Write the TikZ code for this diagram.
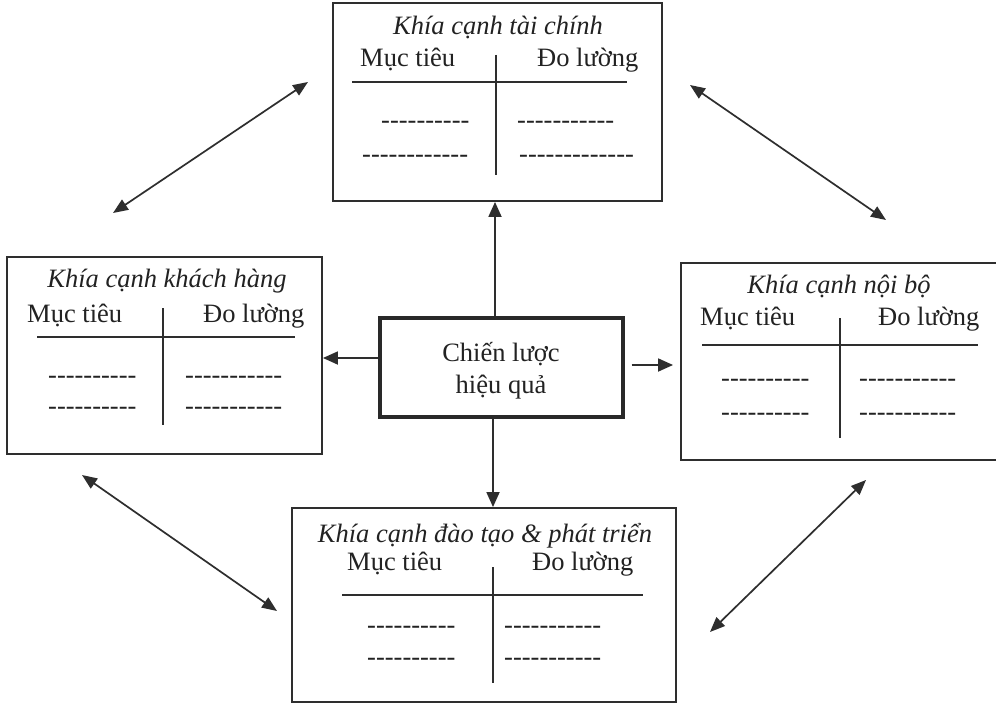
\documentclass[tikz,border=0pt]{standalone}
\usepackage{fontspec}
\setmainfont{Liberation Serif}
\usetikzlibrary{arrows.meta}
\newcommand\dashrow[1]{\foreach \i in {1,...,#1}{-\kern0pt}}
\definecolor{ink}{HTML}{2E2E2E}
\definecolor{txt}{HTML}{222222}
\tikzset{
  panel/.style={draw=ink, line width=1.9pt, inner sep=0pt, fill=none},
  corebox/.style={draw=ink!90!black, line width=3.2pt, inner sep=0pt},
  rule/.style={draw=ink, line width=1.7pt},
  lbl/.style={inner sep=0pt, anchor=base, text=txt, font=\fontsize{26.5}{30}\selectfont},
  lblw/.style={lbl, anchor=base west},
  ttl/.style={lbl, font=\fontsize{26.5}{30}\selectfont\itshape},
  arr/.style={draw=ink, line width=1.8pt, -{Triangle[length=15pt,width=13pt]}},
  darr/.style={draw=ink, line width=1.7pt, {Triangle[length=15pt,width=12pt]}-{Triangle[length=15pt,width=12pt]}}
}
\begin{document}
\begin{tikzpicture}[x=1pt,y=-1pt]
\useasboundingbox[fill=white] (0,0) rectangle (996,706);

% boxes
\node[panel, minimum width=329pt, minimum height=198pt] (top) at (497.5,102) {};
\node[panel, minimum width=315pt, minimum height=197pt] (lft) at (164.5,355.5) {};
\node[panel, minimum width=317pt, minimum height=197pt] (rgt) at (839.5,361.5) {};
\node[panel, minimum width=384pt, minimum height=194pt] (bot) at (484,605) {};
\node[corebox, minimum width=243pt, minimum height=99pt] (ctr) at (501.5,367.5) {};

% center text
\node[lbl] (c1) at (501,361) {Chiến lược};
\node[lbl] (c2) at (501,393) {hiệu quả};

% top box content
\node[ttl] (t0) at (498,35) {Khía cạnh tài chính};
\node[lblw] (t1) at (360,67) {Mục tiêu};
\node[lblw] (t2) at (537,67) {Đo lường};
\draw[rule] (352,82) -- (627,82);
\draw[rule] (496,55) -- (496,175);
\node[lblw] (t3) at (381,129) {\dashrow{10}};
\node[lblw] (t4) at (362,163) {\dashrow{12}};
\node[lblw] (t5) at (517,129) {\dashrow{11}};
\node[lblw] (t6) at (519,163) {\dashrow{13}};

% left box content
\node[ttl] (l0) at (167,287) {Khía cạnh khách hàng};
\node[lblw] (l1) at (27,322) {Mục tiêu};
\node[lblw] (l2) at (203,322) {Đo lường};
\draw[rule] (37,337) -- (295,337);
\draw[rule] (163,308) -- (163,425);
\node[lblw] (l3) at (48,383) {\dashrow{10}};
\node[lblw] (l4) at (48,414) {\dashrow{10}};
\node[lblw] (l5) at (185,383) {\dashrow{11}};
\node[lblw] (l6) at (185,414) {\dashrow{11}};

% right box content
\node[ttl] (r0) at (839,293) {Khía cạnh nội bộ};
\node[lblw] (r1) at (700,325) {Mục tiêu};
\node[lblw] (r2) at (878,325) {Đo lường};
\draw[rule] (702,345) -- (978,345);
\draw[rule] (840,318) -- (840,438);
\node[lblw] (r3) at (721,386) {\dashrow{10}};
\node[lblw] (r4) at (721,420) {\dashrow{10}};
\node[lblw] (r5) at (859,386) {\dashrow{11}};
\node[lblw] (r6) at (859,420) {\dashrow{11}};

% bottom box content
\node[ttl] (b0) at (485,542) {Khía cạnh đào tạo \& phát triển};
\node[lblw] (b1) at (347,570) {Mục tiêu};
\node[lblw] (b2) at (532,570) {Đo lường};
\draw[rule] (342,595) -- (643,595);
\draw[rule] (493,567) -- (493,683);
\node[lblw] (b3) at (367,633) {\dashrow{10}};
\node[lblw] (b4) at (367,665) {\dashrow{10}};
\node[lblw] (b5) at (504,633) {\dashrow{11}};
\node[lblw] (b6) at (504,665) {\dashrow{11}};

% arrows from the strategy box
\draw[arr] ([xshift=-6.5pt]ctr.north) -- ([xshift=-6.5pt]ctr.north |- top.south);
\draw[arr] ([xshift=-8.5pt]ctr.south) -- ([xshift=-8.5pt]ctr.south |- bot.north);
\draw[arr] ([yshift=9.5pt]ctr.west) -- ([yshift=9.5pt]ctr.west -| lft.east);
\draw[arr, shorten <=7pt, shorten >=7pt] ([yshift=2.5pt]ctr.east) -- ([yshift=2.5pt]ctr.east -| rgt.west);

% diagonal double arrows
\coordinate (d1a) at (113,213);
\coordinate (d1b) at (308,82);
\coordinate (d2a) at (690,85);
\coordinate (d2b) at (886,220);
\coordinate (d3a) at (82,475);
\coordinate (d3b) at (277,611);
\coordinate (d4a) at (710,632);
\coordinate (d4b) at (866,480);
\draw[darr] (d1a) -- (d1b);
\draw[darr] (d2a) -- (d2b);
\draw[darr] (d3a) -- (d3b);
\draw[darr] (d4a) -- (d4b);
\end{tikzpicture}
\end{document}
